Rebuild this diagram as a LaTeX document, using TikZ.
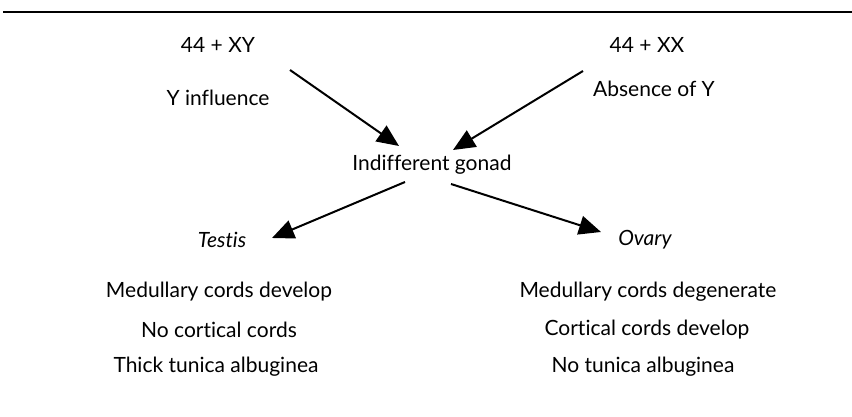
\documentclass[tikz,border=0pt]{standalone}
\usepackage{fontspec}
\setmainfont{Lato}[Ligatures=NoCommon]
\usetikzlibrary{arrows.meta}
\begin{document}
\begin{tikzpicture}[x=1pt,y=-1pt,
  lbl/.style={inner sep=0pt,font=\fontsize{21}{24}\selectfont},
  arr/.style={line width=2pt,-{Triangle[length=22pt,width=19pt]}}]
\useasboundingbox (0,0) rectangle (852,417);
\draw[line width=2.4pt] (3,12) -- (852,12);
\node[lbl] (xy) at (218,45) {44 + XY};
\node[lbl] (yinf) at (218,98) {Y influence};
\node[lbl] (xx) at (647,45) {44 + XX};
\node[lbl] (absy) at (654,89) {Absence of Y};
\node[lbl] (gonad) at (432,165) {Indifferent gonad};
\node[lbl] (testis) at (222,240) {\itshape Testis};
\node[lbl] (ovary) at (645,240) {\itshape Ovary};
\node[lbl] (l1) at (219,292) {Medullary cords develop};
\node[lbl] (l2) at (219,330) {No cortical cords};
\node[lbl] (l3) at (216,367) {Thick tunica albuginea};
\node[lbl] (r1) at (648,292) {Medullary cords degenerate};
\node[lbl] (r2) at (647,330) {Cortical cords develop};
\node[lbl] (r3) at (643,367) {No tunica albuginea};
\coordinate (a1s) at (290,70);
\coordinate (a1e) at (399,146);
\coordinate (a2s) at (583,71);
\coordinate (a2e) at (453,150);
\coordinate (a3s) at (405,182);
\coordinate (a3e) at (272,238);
\coordinate (a4s) at (451,184);
\coordinate (a4e) at (601,232);
\draw[arr] (a1s) -- (a1e);
\draw[arr] (a2s) -- (a2e);
\draw[arr] (a3s) -- (a3e);
\draw[arr] (a4s) -- (a4e);
\end{tikzpicture}
\end{document}
